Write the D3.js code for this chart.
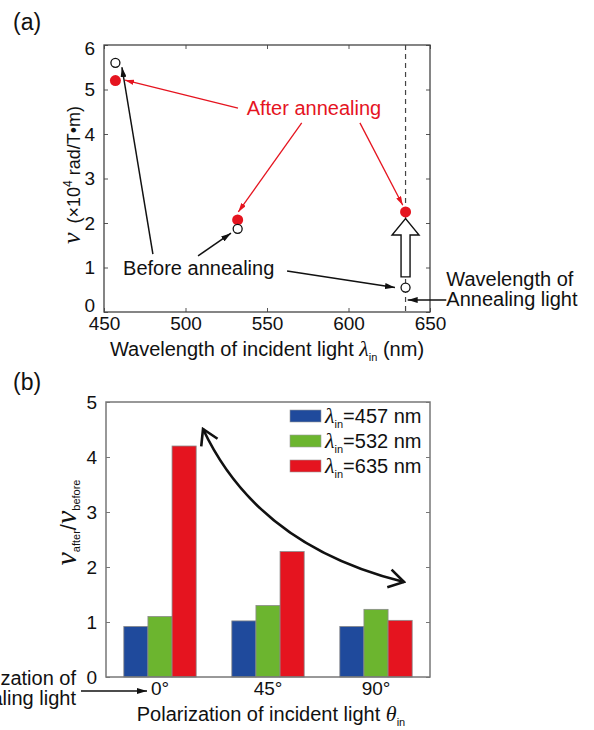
<!DOCTYPE html>
<html lang="en">
<meta charset="utf-8">
<head>
    <title>Faraday rotation before / after annealing</title>
    <script src="https://cdn.jsdelivr.net/npm/d3@7"></script>
    <style>
        body { margin: 0; background: #fff; }
        svg text { font-family: "Liberation Sans", Arial, sans-serif; fill: #111; }
        svg tspan { fill: inherit; }
        .sym { font-family: "Liberation Serif", "Times New Roman", serif; font-style: italic; }
        .tick-label { font-size: 19px; }
        .label { font-size: 20px; }
    </style>
</head>
<body>
<script>
// ---- data (panel a) ----
const wavelengths = [457, 532, 635];
const vBefore = [5.6, 1.87, 0.55];
const vAfter = [5.2, 2.07, 2.25];
const annealWavelength = 635;
const xTicksA = [450, 500, 550, 600, 650];
const yTicksA = [0, 1, 2, 3, 4, 5, 6];

// ---- data (panel b) ----
const polarizations = ["0°", "45°", "90°"];
const ratio457 = [0.92, 1.02, 0.92];
const ratio532 = [1.1, 1.3, 1.23];
const ratio635 = [4.2, 2.28, 1.03];
const seriesNames = ["457 nm", "532 nm", "635 nm"];
const seriesColors = ["#1f4a9c", "#6cb52f", "#e5141f"];
const yTicksB = [0, 1, 2, 3, 4, 5];

const svg = d3.select("body").append("svg")
    .attr("width", 594).attr("height", 730);

// arrow markers
const defs = svg.append("defs");
function headMarker(id, color, size) {
    defs.append("marker")
        .attr("id", id)
        .attr("viewBox", "0 0 10 6")
        .attr("refX", 10).attr("refY", 3)
        .attr("markerUnits", "userSpaceOnUse")
        .attr("markerWidth", size).attr("markerHeight", size * 0.6)
        .attr("orient", "auto")
        .append("path")
        .attr("d", "M0,0 L10,3 L0,6 Z")
        .attr("fill", color);
}
headMarker("headRed", "#e5141f", 9);
headMarker("headBlack", "#111", 10);
defs.append("marker")
    .attr("id", "chevron")
    .attr("viewBox", "-16 -11 18 22")
    .attr("refX", 0).attr("refY", 0)
    .attr("markerUnits", "userSpaceOnUse")
    .attr("markerWidth", 18).attr("markerHeight", 22)
    .attr("orient", "auto-start-reverse")
    .append("path")
    .attr("d", "M-15,-9 L0,0 L-15,9")
    .attr("fill", "none").attr("stroke", "#111").attr("stroke-width", 2.6);

// ================= panel (a) =================
const A = { left: 104, top: 45, right: 430, bottom: 312 };
const xA = d3.scaleLinear().domain([450, 650]).range([A.left, A.right]);
const yA = d3.scaleLinear().domain([0, 6]).range([A.bottom, A.top]);

svg.append("text").attr("x", 13).attr("y", 30).style("font-size", "23px").text("(a)");

const gA = svg.append("g");
gA.append("g").attr("transform", `translate(0,${A.bottom})`)
    .call(d3.axisBottom(xA).tickValues(xTicksA).tickSize(-4).tickPadding(5).tickFormat(d3.format("d")));
gA.append("g").attr("transform", `translate(0,${A.top})`)
    .call(d3.axisTop(xA).tickValues(xTicksA).tickSize(-4).tickFormat(""));
const yAxisA = gA.append("g").attr("transform", `translate(${A.left},0)`)
    .call(d3.axisLeft(yA).tickValues(yTicksA).tickSize(-4).tickPadding(9).tickFormat(d3.format("d")));
gA.append("g").attr("transform", `translate(${A.right},0)`)
    .call(d3.axisRight(yA).tickValues(yTicksA).tickSize(-4).tickFormat(""));
gA.selectAll(".domain").remove();
gA.selectAll(".tick line").attr("stroke", "#555");
gA.selectAll(".tick text").attr("class", "tick-label").attr("fill", "#111");
// lift the 0 label clear of the 450 label
yAxisA.selectAll(".tick text").filter(d => d === 0).attr("y", -7);
yAxisA.selectAll(".tick text").filter(d => d === 6).attr("y", 3);
gA.append("rect")
    .attr("x", A.left).attr("y", A.top)
    .attr("width", A.right - A.left).attr("height", A.bottom - A.top)
    .attr("fill", "none").attr("stroke", "#444").attr("stroke-width", 1.3);

// annealing wavelength line
gA.append("line")
    .attr("x1", xA(annealWavelength)).attr("x2", xA(annealWavelength))
    .attr("y1", yA(6)).attr("y2", yA(0))
    .attr("stroke", "#444").attr("stroke-width", 1.2).attr("stroke-dasharray", "5,4");

// hollow arrow (before -> after at 635 nm)
const ax = xA(annealWavelength);
const hollow = [
    [ax - 4.5, yA(0.79)], [ax - 4.5, yA(1.73)], [ax - 13.5, yA(1.73)],
    [ax, yA(2.1)], [ax + 13.5, yA(1.73)], [ax + 4.5, yA(1.73)], [ax + 4.5, yA(0.79)]
];
gA.append("path").attr("d", d3.line()(hollow) + "Z")
    .attr("fill", "#fff").attr("stroke", "#111").attr("stroke-width", 1.4);

// points
const ptsA = wavelengths.map((w, i) => ({ w, before: vBefore[i], after: vAfter[i] }));
gA.selectAll(".after").data(ptsA).join("circle")
    .attr("cx", d => xA(d.w)).attr("cy", d => yA(d.after)).attr("r", 5.5)
    .attr("fill", "#e5141f");
gA.selectAll(".before").data(ptsA).join("circle")
    .attr("cx", d => xA(d.w)).attr("cy", d => yA(d.before)).attr("r", 4.5)
    .attr("fill", "#fff").attr("stroke", "#111").attr("stroke-width", 1.3);

// annotations (in data units)
function arrowA(from, to, color, marker, w) {
    gA.append("line")
        .attr("x1", xA(from[0])).attr("y1", yA(from[1]))
        .attr("x2", xA(to[0])).attr("y2", yA(to[1]))
        .attr("stroke", color).attr("stroke-width", w)
        .attr("marker-end", `url(#${marker})`);
}
arrowA([532.2, 4.58], [462.9, 5.21], "#e5141f", "headRed", 1.3);
arrowA([571.3, 4.25], [532.4, 2.25], "#e5141f", "headRed", 1.3);
arrowA([607, 4.25], [633.3, 2.4], "#e5141f", "headRed", 1.3);
arrowA([480, 1.3], [461, 5.5], "#111", "headBlack", 1.5);
arrowA([507.7, 1.26], [527.9, 1.77], "#111", "headBlack", 1.5);
arrowA([562.3, 0.92], [628.5, 0.55], "#111", "headBlack", 1.5);
arrowA([660, 0.27], [636.3, 0.27], "#111", "headBlack", 1.3);

gA.append("text").attr("class", "label").attr("x", xA(537.5)).attr("y", yA(4.43))
    .style("fill", "#e5141f").text("After annealing");
gA.append("text").attr("class", "label").attr("x", xA(461.7)).attr("y", yA(0.83))
    .text("Before annealing");
gA.append("text").attr("class", "label").attr("x", xA(660)).attr("y", yA(0.58))
    .text("Wavelength of");
gA.append("text").attr("class", "label").attr("x", xA(660)).attr("y", yA(0.13))
    .text("Annealing light");

// axis labels (a)
const xlabA = svg.append("text").attr("class", "label")
    .attr("x", (A.left + A.right) / 2).attr("y", 356).attr("text-anchor", "middle");
xlabA.append("tspan").text("Wavelength of incident light ");
xlabA.append("tspan").attr("class", "sym").style("font-size", "22px").text("λ");
xlabA.append("tspan").style("font-size", "11px").attr("dy", 5).text("in");
xlabA.append("tspan").attr("dy", -5).text(" (nm)");

const ylabA = svg.append("text")
    .attr("transform", "translate(80,175) rotate(-90)")
    .attr("text-anchor", "middle").style("font-size", "18px");
ylabA.append("tspan").attr("class", "sym").style("font-size", "26px").text("ν");
ylabA.append("tspan").attr("dx", 9).text("(×10");
ylabA.append("tspan").style("font-size", "12px").attr("dy", -8).text("4");
ylabA.append("tspan").attr("dy", 8).text(" rad/T•m)");

// ================= panel (b) =================
const B = { left: 106, top: 402, right: 430, bottom: 677 };
const rowsB = polarizations.map((p, i) => ({ p, values: [ratio457[i], ratio532[i], ratio635[i]] }));
const x0 = d3.scaleBand().domain(polarizations).range([B.left, B.right])
    .paddingInner(0.33).paddingOuter(0.165);
const x1 = d3.scaleBand().domain(seriesNames).range([0, x0.bandwidth()]);
const yB = d3.scaleLinear().domain([0, 5]).range([B.bottom, B.top]);
const colorB = d3.scaleOrdinal().domain(seriesNames).range(seriesColors);

svg.append("text").attr("x", 13).attr("y", 390).style("font-size", "23px").text("(b)");

const gB = svg.append("g");
gB.append("g").attr("transform", `translate(${B.left},0)`)
    .call(d3.axisLeft(yB).tickValues(yTicksB).tickSize(-4).tickPadding(9).tickFormat(d3.format("d")));
gB.append("g").attr("transform", `translate(${B.right},0)`)
    .call(d3.axisRight(yB).tickValues(yTicksB).tickSize(-4).tickFormat(""));
gB.append("g").attr("transform", `translate(0,${B.bottom})`)
    .call(d3.axisBottom(x0).tickSize(0).tickPadding(5));
gB.selectAll(".domain").remove();
gB.selectAll(".tick line").attr("stroke", "#777");
gB.selectAll(".tick text").attr("class", "tick-label").attr("fill", "#111");

gB.selectAll(".group").data(rowsB).join("g")
    .attr("transform", d => `translate(${x0(d.p)},0)`)
    .selectAll("rect")
    .data(d => d.values.map((v, j) => ({ name: seriesNames[j], v })))
    .join("rect")
    .attr("x", d => x1(d.name)).attr("width", x1.bandwidth())
    .attr("y", d => yB(d.v)).attr("height", d => yB(0) - yB(d.v))
    .attr("fill", d => colorB(d.name))
    .attr("stroke", "#8a8a8a").attr("stroke-width", 0.8);

gB.append("rect")
    .attr("x", B.left).attr("y", B.top)
    .attr("width", B.right - B.left).attr("height", B.bottom - B.top)
    .attr("fill", "none").attr("stroke", "#777").attr("stroke-width", 1.5);

// legend
const leg = gB.selectAll(".leg").data(seriesNames).join("g")
    .attr("transform", (d, i) => `translate(290,${410 + i * 25})`);
leg.append("rect").attr("width", 31).attr("height", 12)
    .attr("fill", d => colorB(d)).attr("stroke", "#999").attr("stroke-width", 0.6);
const legText = leg.append("text").attr("x", 35).attr("y", 13).style("font-size", "20px");
legText.append("tspan").attr("class", "sym").style("font-size", "22px").text("λ");
legText.append("tspan").style("font-size", "11px").attr("dy", 5).text("in");
legText.append("tspan").attr("dy", -5).text(d => "=" + d);

// curved double arrow
gB.append("path")
    .attr("d", "M203,429 Q258,546 404,582")
    .attr("fill", "none").attr("stroke", "#111").attr("stroke-width", 2.6)
    .attr("marker-start", "url(#chevron)").attr("marker-end", "url(#chevron)");

// annealing polarization pointer
svg.append("text").attr("class", "label").attr("x", 76).attr("y", 685)
    .attr("text-anchor", "end").text("Polarization of");
svg.append("text").attr("class", "label").attr("x", 76).attr("y", 705)
    .attr("text-anchor", "end").text("Annealing light");
svg.append("line").attr("x1", 81).attr("y1", 691).attr("x2", 147).attr("y2", 691)
    .attr("stroke", "#111").attr("stroke-width", 1.3).attr("marker-end", "url(#headBlack)");

// axis labels (b)
const xlabB = svg.append("text").attr("class", "label")
    .attr("x", (B.left + B.right) / 2 + 3).attr("y", 721).attr("text-anchor", "middle");
xlabB.append("tspan").text("Polarization of incident light ");
xlabB.append("tspan").attr("class", "sym").style("font-size", "22px").text("θ");
xlabB.append("tspan").style("font-size", "11px").attr("dy", 5).text("in");

const ylabB = svg.append("text")
    .attr("transform", `translate(76,${(B.top + B.bottom) / 2 - 17}) rotate(-90)`)
    .attr("text-anchor", "middle");
ylabB.append("tspan").attr("class", "sym").style("font-size", "30px").text("ν");
ylabB.append("tspan").style("font-size", "11px").attr("dy", 4).text("after");
ylabB.append("tspan").style("font-size", "22px").attr("dy", -4).text("/");
ylabB.append("tspan").attr("class", "sym").style("font-size", "30px").text("ν");
ylabB.append("tspan").style("font-size", "11px").attr("dy", 4).text("before");
</script>
</body>
</html>
